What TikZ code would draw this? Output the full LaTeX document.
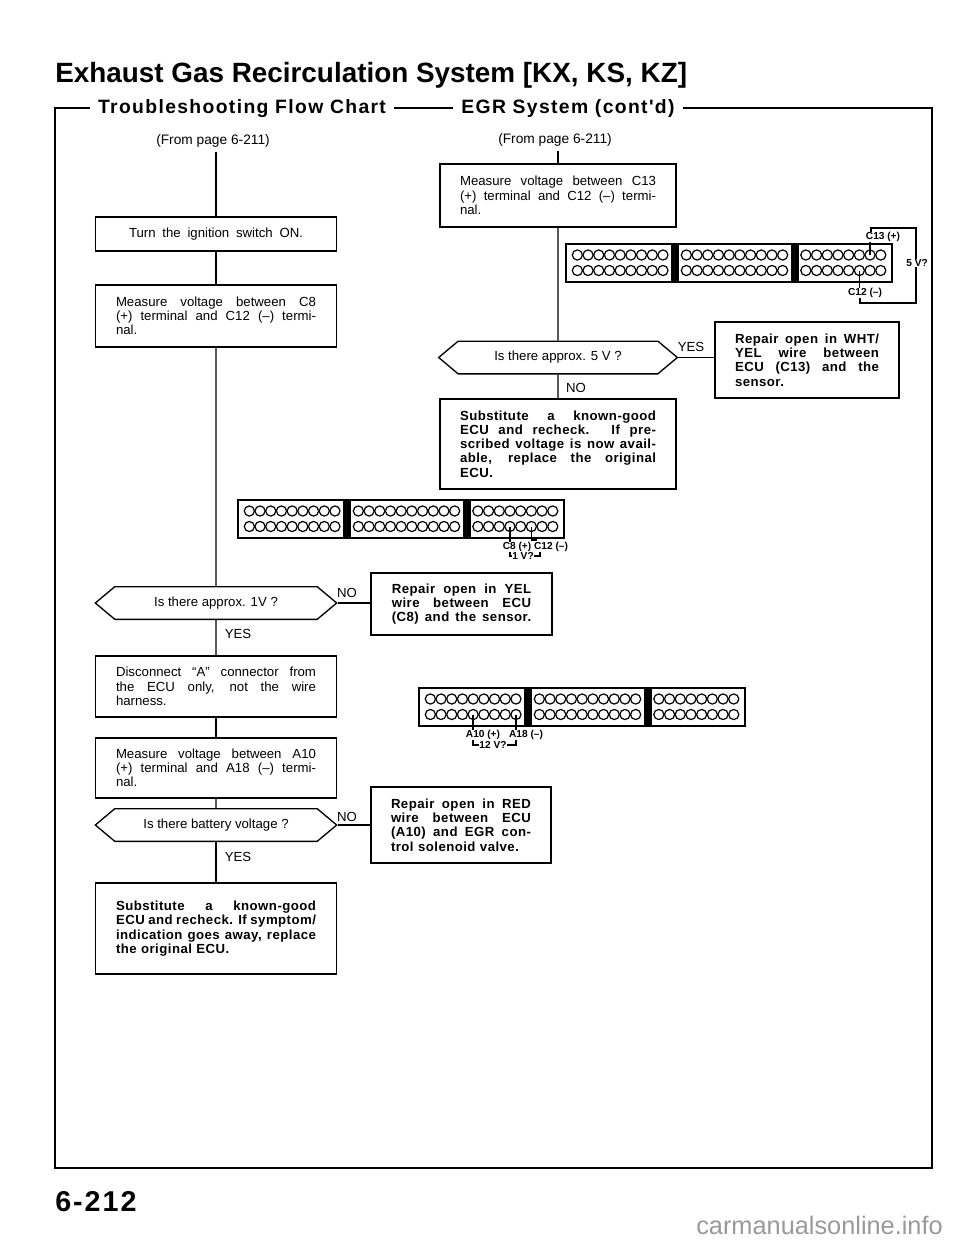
\documentclass[tikz,border=0pt]{standalone}
\usepackage{fontspec}
\usepackage{tikz}
\usetikzlibrary{shapes.symbols}
\setmainfont{Liberation Sans}
\newfontfamily\headfont[LetterSpace=7]{Liberation Sans}
\newfontfamily\boldbox[LetterSpace=3.5]{Liberation Sans}

\newcommand{\jl}[1]{\makebox[\hsize][s]{\spaceskip=0pt\xspaceskip=0pt #1}}

\tikzset{
  wire/.style={line width=1pt},
  stepbox/.style={draw,line width=1pt,inner sep=0pt,font=\fontsize{9.9pt}{10.7pt}\selectfont},
  mainbox/.style={stepbox,minimum width=180.75pt,text width=150pt,align=left},
  sidebox/.style={stepbox,minimum width=136.5pt,text width=106pt,align=left},
  heavy/.style={font=\boldbox\bfseries\fontsize{9.9pt}{10.7pt}\selectfont},
  query/.style={draw,line width=1pt,signal,signal to=west and east,signal from=nowhere,
    signal pointer angle=80,inner sep=0pt,minimum width=181pt,minimum height=24.5pt,
    font=\fontsize{9.9pt}{10.7pt}\selectfont},
  tag/.style={inner sep=0pt,font=\fontsize{9.9pt}{11pt}\selectfont},
  pinlabel/.style={inner sep=0pt,font=\bfseries\fontsize{7.6pt}{8pt}\selectfont},
  hole/.style={draw,circle,inner sep=0pt,minimum size=7.6pt,line width=.9pt},
  x=.75pt,y=-.75pt
}

\newcommand{\ecuplug}[3]{%
  \draw[line width=1.8pt] (#2,#3) rectangle ++(326,38);
  \fill (#2+105,#3) rectangle ++(8,38);
  \fill (#2+225,#3) rectangle ++(8,38);
  \foreach \row/\rowy in {t/11,b/26.5} {
    \foreach \i in {1,...,9}
      \node[hole] (#1a\row\i) at (#2+.65+10.7*\i,#3+\rowy) {};
    \foreach \i in {1,...,10}
      \node[hole] (#1b\row\i) at (#2+109.65+10.7*\i,#3+\rowy) {};
    \foreach \i in {1,...,8}
      \node[hole] (#1c\row\i) at (#2+229.15+10.7*\i,#3+\rowy) {};
  }%
}

\begin{document}
\begin{tikzpicture}
  \useasboundingbox (0,0) rectangle (960,1242);

  \draw (55,82) node[anchor=base west,inner sep=0pt,font=\bfseries\fontsize{20.9pt}{24pt}\selectfont] (title)
    {Exhaust Gas Recirculation System [KX, KS, KZ]};
  \draw (242,113) node[anchor=base,inner xsep=6pt,inner ysep=0pt,font=\headfont\bfseries\fontsize{14.5pt}{16pt}\selectfont] (headflow)
    {Troubleshooting Flow Chart};
  \draw (568,113) node[anchor=base,inner xsep=6pt,inner ysep=0pt,font=\headfont\bfseries\fontsize{14.5pt}{16pt}\selectfont] (headegr)
    {EGR System (cont'd)};

  \coordinate (ftl) at (55,108);
  \coordinate (ftr) at (932,108);
  \coordinate (fbl) at (55,1168);
  \coordinate (fbr) at (932,1168);
  \draw[line width=1.2pt] (headflow.west |- ftl) -- (ftl) -- (fbl) -- (fbr) -- (ftr) -- (headegr.east |- ftr);
  \draw[line width=1.2pt] (headflow.east |- ftl) -- (headegr.west |- ftl);

  \draw (213,141) node[tag,inner ysep=3.5pt,font=\fontsize{10.3pt}{11pt}\selectfont] (fromleft) {(From page 6-211)};
  \draw (555,140) node[tag,inner ysep=3.5pt,font=\fontsize{10.3pt}{11pt}\selectfont] (fromright) {(From page 6-211)};

  \draw (216,234) node[stepbox,minimum width=180.75pt,minimum height=25.5pt] (turn) {\makebox[130.5pt][s]{Turn the ignition switch ON.}};
  \draw (216,316) node[mainbox,minimum height=46.5pt] (measurec) {%
    \jl{Measure voltage between C8}\\
    \jl{(+) terminal and C12 (--) termi-}\\
    nal.};
  \draw (216,603) node[query] (oneask) {Is there approx. 1V ?};
  \draw (216,686.5) node[mainbox,minimum height=45.75pt] (disconnect) {%
    \jl{Disconnect ``A'' connector from}\\
    \jl{the ECU only, not the wire}\\
    harness.};
  \draw (216,768) node[mainbox,minimum height=45pt] (measurea) {%
    \jl{Measure voltage between A10}\\
    \jl{(+) terminal and A18 (--) termi-}\\
    nal.};
  \draw (216,825) node[query] (battask) {Is there battery voltage ?};
  \draw (216,928.5) node[mainbox,minimum height=68.25pt,heavy] (subleft) {%
    \jl{Substitute a known-good}\\
    \jl{ECU and recheck. If symptom/}\\
    \jl{indication goes away, replace}\\
    the original ECU.};

  \draw (558,195.5) node[mainbox,minimum width=177pt,text width=147pt,minimum height=47.25pt] (measureb) {%
    \jl{Measure voltage between C13}\\
    \jl{(+) terminal and C12 (--) termi-}\\
    nal.};
  \draw (558,357.5) node[query,minimum width=179pt] (fiveask) {Is there approx. 5 V ?};
  \draw (558,444) node[mainbox,minimum width=177pt,text width=147pt,minimum height=67.5pt,heavy] (subright) {%
    \jl{Substitute a known-good}\\
    \jl{ECU and recheck. If pre-}\\
    \jl{scribed voltage is now avail-}\\
    \jl{able, replace the original}\\
    ECU.};

  \draw (807,360) node[sidebox,minimum width=138pt,text width=108pt,minimum height=57pt,heavy] (repairwht) {%
    \jl{Repair open in WHT/}\\
    \jl{YEL wire between}\\
    \jl{ECU (C13) and the}\\
    sensor.};
  \draw (461.5,604) node[sidebox,minimum width=135.75pt,text width=104.5pt,minimum height=46.5pt,heavy] (repairyel) {%
    \jl{Repair open in YEL}\\
    \jl{wire between ECU}\\
    \jl{(C8) and the sensor.}};
  \draw (461,825) node[sidebox,minimum width=135pt,text width=105pt,minimum height=57pt,heavy] (repairred) {%
    \jl{Repair open in RED}\\
    \jl{wire between ECU}\\
    \jl{(A10) and EGR con-}\\
    trol solenoid valve.};

  \draw[wire] (fromleft.south -| turn.north) -- (turn.north);
  \draw[wire] (turn) -- (measurec);
  \draw[wire] (measurec) -- (oneask);
  \draw[wire] (oneask) -- (disconnect);
  \draw[wire] (disconnect) -- (measurea);
  \draw[wire] (measurea) -- (battask);
  \draw[wire] (battask) -- (subleft);
  \draw[wire] (fromright.south -| measureb.north) -- (measureb.north);
  \draw[wire] (measureb) -- (fiveask);
  \draw[wire] (fiveask) -- (subright);
  \draw[wire] (fiveask.east) -- (fiveask.east -| repairwht.west);
  \draw[wire] (oneask.east) -- (oneask.east -| repairyel.west);
  \draw[wire] (battask.east) -- (battask.east -| repairred.west);

  \draw (691,347) node[tag] (yesfive) {YES};
  \draw (576,388) node[tag] (nofive) {NO};
  \draw (347,593) node[tag] (noone) {NO};
  \draw (238,634) node[tag] (yesone) {YES};
  \draw (347,817) node[tag] (nobatt) {NO};
  \draw (238,857) node[tag] (yesbatt) {YES};

  \ecuplug{p}{566}{244}
  \ecuplug{q}{238}{500}
  \ecuplug{r}{419}{688}

  \draw (883,237) node[pinlabel] (lcthirteen) {C13 (+)};
  \draw (865,293) node[pinlabel] (lctwelve) {C12 (--)};
  \draw (917,263) node[pinlabel] (lfive) {5 V?};
  \coordinate (cta) at (871,228);
  \coordinate (ctb) at (916,228);
  \coordinate (ctc) at (916,303);
  \coordinate (ctd) at (860,303);
  \draw[wire] (pct7.center) -- (pct7.center |- lcthirteen.south);
  \draw[wire] (cta |- lcthirteen.north) -- (cta) -- (ctb) -- (lfive.north -| ctb);
  \draw[wire] (lfive.south -| ctc) -- (ctc) -- (ctd) -- (ctd |- lctwelve.south);
  \draw[wire] (pcb6.center) -- (pcb6.center |- lctwelve.north);

  \draw (517,547) node[pinlabel] (lceight) {C8 (+)};
  \draw (551,547) node[pinlabel] (lctwelveb) {C12 (--)};
  \draw (523,556) node[pinlabel] (lone) {1 V?};
  \coordinate (cbend) at (537,540);
  \coordinate (cbright) at (540,552);
  \draw[wire] (qcb4.center) -- (qcb4.center |- lceight.north);
  \draw[wire] (qcb6.center) |- (cbend);
  \draw[wire] (qcb4.center |- lceight.south) |- (lone.west);
  \draw[wire] (lone.east) -| (cbright);

  \draw (483,735) node[pinlabel] (laten) {A10 (+)};
  \draw (526,735) node[pinlabel] (laeighteen) {A18 (--)};
  \draw (493,745) node[pinlabel] (ltwelve) {12 V?};
  \draw[wire] (rab5.center) -- (rab5.center |- laten.north);
  \draw[wire] (rab9.center) -- (rab9.center |- laeighteen.north);
  \draw[wire] (rab5.center |- laten.south) |- (ltwelve.west);
  \draw[wire] (ltwelve.east) -| (rab9.center |- laeighteen.south);

  \draw (55,1211) node[anchor=base west,inner sep=0pt,font=\headfont\bfseries\fontsize{21.5pt}{24pt}\selectfont] (pagenum) {6-212};
  \draw (943,1234) node[anchor=base east,inner sep=0pt,text=black!40,font=\fontsize{19pt}{22pt}\selectfont] (site) {carmanualsonline.info};
\end{tikzpicture}
\end{document}
